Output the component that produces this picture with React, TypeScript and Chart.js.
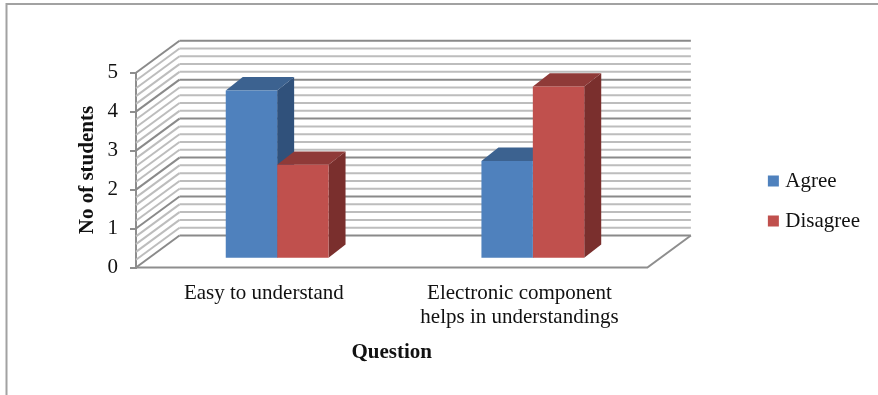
import { useEffect, useRef } from "react";
import { Chart, registerables } from "chart.js";

Chart.register(...registerables);

// Chart content
const categories = [["Easy to understand"], ["Electronic component", "helps in understandings"]];
const agreeValues = [4.32, 2.51];
const disagreeValues = [2.41, 4.42];
const seriesNames = ["Agree", "Disagree"];
const yTitle = "No of students";
const xTitle = "Question";

const serif = "'Liberation Serif', 'Times New Roman', serif";
const faces = [
  { front: "#4F81BD", top: "#3C6290", side: "#30517B" },
  { front: "#C0504D", top: "#8F3A38", side: "#7A2F2D" },
];

// Oblique projection of the box the columns stand in
const WALL_DX = 43.5;
const WALL_DY = -32;
const BAR_SHIFT_X = 13.3;
const BAR_SHIFT_Y = -8.8;
const BAR_DX = 17;
const BAR_DY = -13.3;

const polygon = (ctx: CanvasRenderingContext2D, pts: number[][], fill: string) => {
  ctx.beginPath();
  pts.forEach(([x, y], i) => (i ? ctx.lineTo(x, y) : ctx.moveTo(x, y)));
  ctx.closePath();
  ctx.fillStyle = fill;
  ctx.fill();
};

const line = (ctx: CanvasRenderingContext2D, x1: number, y1: number, x2: number, y2: number) => {
  ctx.beginPath();
  ctx.moveTo(x1, y1);
  ctx.lineTo(x2, y2);
  ctx.stroke();
};

const box3d = {
  id: "box3d",
  beforeDraw(chart: any) {
    const { ctx, width, height } = chart;
    ctx.save();
    ctx.fillStyle = "#fff";
    ctx.fillRect(0, 0, width, height);
    // Outer frame, open towards the right and bottom edges
    ctx.strokeStyle = "#a2a2a2";
    ctx.lineWidth = 2;
    ctx.beginPath();
    ctx.moveTo(6.5, height);
    ctx.lineTo(6.5, 4);
    ctx.lineTo(width, 4);
    ctx.stroke();
    ctx.restore();
  },
  beforeDatasetsDraw(chart: any) {
    const { ctx, chartArea, scales } = chart;
    const y = scales.y;
    const { left, right } = chartArea;
    ctx.save();
    // Wall grid: major lines on whole numbers, minor lines at fifths
    for (let i = 0; i <= 25; i++) {
      const major = i % 5 === 0;
      const py = y.getPixelForValue(i / 5);
      ctx.strokeStyle = major ? "#8a8a8a" : "#bdbdbd";
      ctx.lineWidth = 2;
      line(ctx, left, py, left + WALL_DX, py + WALL_DY);
      line(ctx, left + WALL_DX, py + WALL_DY, right + WALL_DX, py + WALL_DY);
    }
    // Floor outline
    const y0 = y.getPixelForValue(0);
    ctx.strokeStyle = "#8e8e8e";
    ctx.lineWidth = 2;
    ctx.beginPath();
    ctx.moveTo(left, y0);
    ctx.lineTo(right, y0);
    ctx.lineTo(right + WALL_DX, y0 + WALL_DY);
    ctx.stroke();

    // Column tops and sides sit behind every front face
    ctx.translate(BAR_SHIFT_X, BAR_SHIFT_Y);
    chart.data.datasets.forEach((_: any, d: number) => {
      chart.getDatasetMeta(d).data.forEach((bar: any) => {
        const x0 = bar.x - bar.width / 2;
        const x1 = bar.x + bar.width / 2;
        polygon(ctx, [[x1, bar.y], [x1 + BAR_DX, bar.y + BAR_DY], [x1 + BAR_DX, bar.base + BAR_DY], [x1, bar.base]], faces[d].side);
        polygon(ctx, [[x0, bar.y], [x0 + BAR_DX, bar.y + BAR_DY], [x1 + BAR_DX, bar.y + BAR_DY], [x1, bar.y]], faces[d].top);
      });
    });
  },
  afterDatasetsDraw(chart: any) {
    chart.ctx.restore();
  },
};

export default function App() {
  const ref = useRef<HTMLCanvasElement>(null);

  useEffect(() => {
    const chart = new Chart(ref.current!, {
      type: "bar",
      data: {
        labels: categories,
        datasets: [
          { label: seriesNames[0], data: agreeValues, backgroundColor: faces[0].front, pointStyle: "rect", clip: false },
          { label: seriesNames[1], data: disagreeValues, backgroundColor: faces[1].front, pointStyle: "rect", clip: false },
        ],
      } as any,
      plugins: [box3d],
      options: {
        responsive: false,
        animation: false,
        layout: { padding: { top: 72.7, bottom: 65.7, left: 0, right: 8 } },
        datasets: { bar: { barPercentage: 1, categoryPercentage: 0.402, borderWidth: 0 } },
        plugins: {
          tooltip: { enabled: false },
          legend: {
            position: "right",
            labels: {
              usePointStyle: true,
              pointStyle: "rect",
              boxWidth: 3,
              boxHeight: 11,
              padding: 19,
              color: "#111",
              font: { family: serif, size: 21 },
            },
          },
        },
        scales: {
          x: {
            grid: { display: false },
            border: { display: false },
            ticks: { color: "#111", font: { family: serif, size: 21, lineHeight: 1.15 }, maxRotation: 0, autoSkip: false, padding: 6 },
            title: {
              display: true,
              text: xTitle,
              color: "#111",
              font: { family: serif, size: 21, weight: "bold" },
              padding: { top: 0, bottom: -36 },
            },
            afterFit: (s: any) => { s.height = 61.8; },
          },
          y: {
            min: 0,
            max: 5,
            ticks: { stepSize: 1, color: "#111", font: { family: serif, size: 21 }, padding: 12 },
            grid: { drawOnChartArea: false, drawTicks: true, tickLength: 6, color: "#8e8e8e", lineWidth: 2 },
            border: { display: true, color: "#8e8e8e", width: 2 },
            title: {
              display: true,
              text: yTitle,
              color: "#111",
              font: { family: serif, size: 21, weight: "bold" },
              padding: { top: 75, bottom: 0 },
            },
            afterFit: (s: any) => { s.width = 136; },
          },
          // Empty spacer between the plot and the legend
          spacer: {
            type: "linear",
            position: "right",
            display: true,
            ticks: { display: false },
            grid: { display: false },
            border: { display: false },
            afterFit: (s: any) => { s.width = 105.5; },
          },
        },
      },
    } as any);
    return () => chart.destroy();
  }, []);

  return (
    <div style={{ position: "absolute", left: 0, top: 0, width: 878, height: 395 }}>
      <canvas ref={ref} width={878} height={395} style={{ display: "block" }} />
    </div>
  );
}
